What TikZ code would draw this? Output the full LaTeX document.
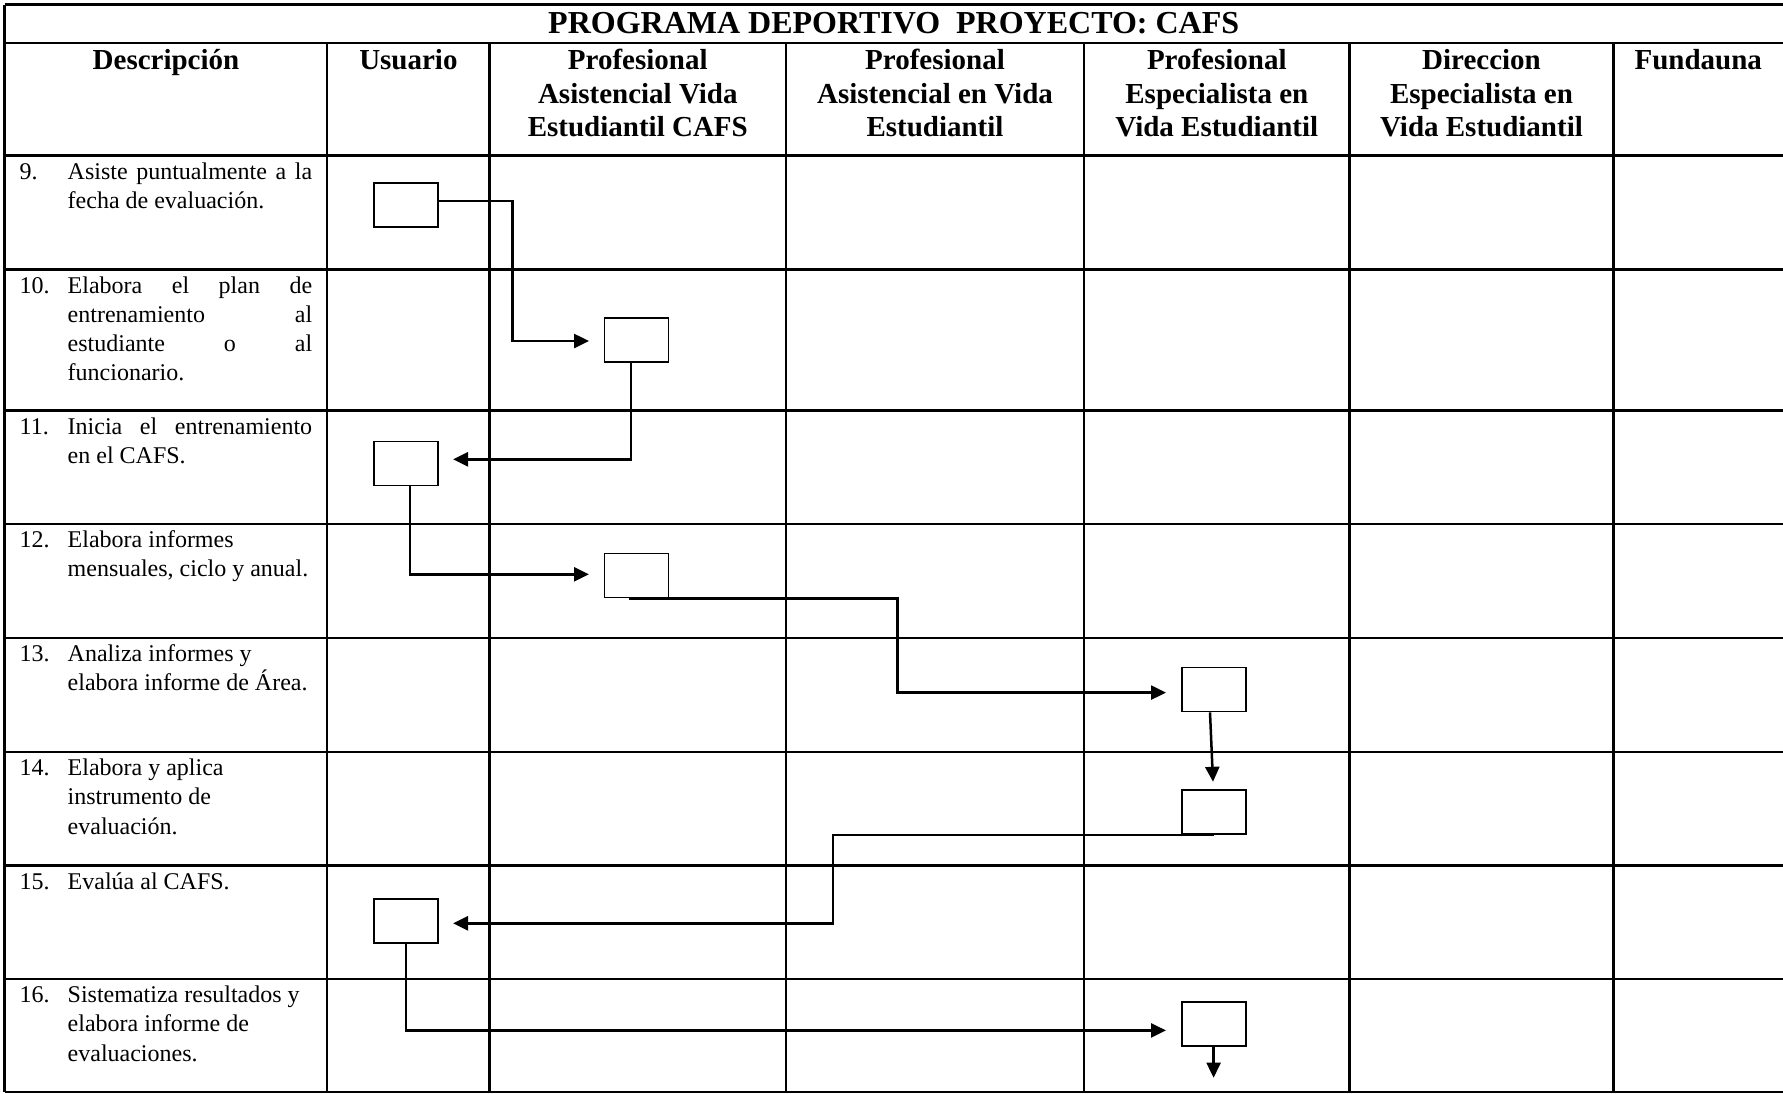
\documentclass[tikz,border=0pt]{standalone}
\usepackage{fontspec}
\setmainfont{Liberation Serif}
\usetikzlibrary{arrows.meta,calc}
\newcommand{\ttlfont}{\fontsize{32}{36}\selectfont\bfseries}
\newcommand{\hdfont}{\fontsize{29}{33.5}\selectfont\bfseries}
\newcommand{\bdfont}{\fontsize{24}{29.3}\selectfont}
\newcommand{\jline}[1]{\hbox to 244.5pt{#1}}
\begin{document}
\begin{tikzpicture}[x=1pt,y=-1pt,
  grid/.style={line width=2.1pt},
  box/.style={draw, line width=1.8pt, minimum width=64pt, minimum height=44pt, inner sep=0pt},
  conn/.style={line width=2.5pt, -{Triangle[length=15pt,width=14pt]}},
  hd/.style={font=\hdfont, anchor=base, inner sep=0pt},
  ttl/.style={font=\ttlfont, anchor=base, inner sep=0pt},
  num/.style={font=\bdfont, anchor=base west, inner sep=0pt},
  txt/.style={font=\bdfont, anchor=base west, inner sep=0pt}]
\useasboundingbox (0,0) rectangle (1783,1093);
\fill[white] (0,0) rectangle (1783,1093);
% table grid
\draw[grid] (4.5,4.5) -- (1783,4.5);
\foreach \yy in {43,155.5,269.5,410.5,524,638,752,865.5,979,1092}
  \draw[grid] (4.5,\yy) -- (1783,\yy);
\draw[grid] (4.5,4.5) -- (4.5,1092);
\foreach \xx in {327.3,489.5,786,1084,1349.5,1613.5}
  \draw[grid] (\xx,43) -- (\xx,1092);
% title
\node[ttl] (title) at (893.7,33) {PROGRAMA DEPORTIVO\ \ PROYECTO: CAFS};
% headers
\node[hd] (h1) at (166,69.5) {Descripción};
\node[hd] (h2) at (408.4,69.5) {Usuario};
\node[hd] (h3a) at (637.8,69.5) {Profesional};
\node[hd] (h3b) at (637.8,103) {Asistencial Vida};
\node[hd] (h3c) at (637.8,136.5) {Estudiantil CAFS};
\node[hd] (h4a) at (935,69.5) {Profesional};
\node[hd] (h4b) at (935,103) {Asistencial en Vida};
\node[hd] (h4c) at (935,136.5) {Estudiantil};
\node[hd] (h5a) at (1216.8,69.5) {Profesional};
\node[hd] (h5b) at (1216.8,103) {Especialista en};
\node[hd] (h5c) at (1216.8,136.5) {Vida Estudiantil};
\node[hd] (h6a) at (1481.5,69.5) {Direccion};
\node[hd] (h6b) at (1481.5,103) {Especialista en};
\node[hd] (h6c) at (1481.5,136.5) {Vida Estudiantil};
\node[hd] (h7) at (1698.3,69.5) {Fundauna};
% descriptions
\node[num] (n9) at (19.5,179) {9.};
\node[txt] (d9a) at (67.5,179) {\jline{Asiste\hfill puntualmente\hfill a\hfill la}};
\node[txt] (d9b) at (67.5,208.3) {fecha de evaluación.};
\node[num] (n10) at (19.5,293) {10.};
\node[txt] (d10a) at (67.5,293) {\jline{Elabora\hfill el\hfill plan\hfill de}};
\node[txt] (d10b) at (67.5,322.3) {\jline{entrenamiento\hfill al}};
\node[txt] (d10c) at (67.5,351.6) {\jline{estudiante\hfill o\hfill al}};
\node[txt] (d10d) at (67.5,380.9) {funcionario.};
\node[num] (n11) at (19.5,434) {11.};
\node[txt] (d11a) at (67.5,434) {\jline{Inicia\hfill el\hfill entrenamiento}};
\node[txt] (d11b) at (67.5,463.3) {en el CAFS.};
\node[num] (n12) at (19.5,547.5) {12.};
\node[txt] (d12a) at (67.5,547.5) {Elabora informes};
\node[txt] (d12b) at (67.5,576.8) {mensuales, ciclo y anual.};
\node[num] (n13) at (19.5,661.5) {13.};
\node[txt] (d13a) at (67.5,661.5) {Analiza informes y};
\node[txt] (d13b) at (67.5,690.8) {elabora informe de Área.};
\node[num] (n14) at (19.5,775.5) {14.};
\node[txt] (d14a) at (67.5,775.5) {Elabora y aplica};
\node[txt] (d14b) at (67.5,804.8) {instrumento de};
\node[txt] (d14c) at (67.5,834.1) {evaluación.};
\node[num] (n15) at (19.5,889) {15.};
\node[txt] (d15a) at (67.5,889) {Evalúa al CAFS.};
\node[num] (n16) at (19.5,1002.5) {16.};
\node[txt] (d16a) at (67.5,1002.5) {Sistematiza resultados y};
\node[txt] (d16b) at (67.5,1031.8) {elabora informe de};
\node[txt] (d16c) at (67.5,1061.1) {evaluaciones.};
% boxes
\node[box] (A) at (406,205) {};
\node[box] (B) at (636.5,340) {};
\node[box] (C) at (406,463.5) {};
\node[box] (D) at (636.5,575.5) {};
\node[box] (E) at (1213.6,689.5) {};
\node[box] (F) at (1213.6,812) {};
\node[box] (G) at (406,921) {};
\node[box] (H) at (1213.6,1024) {};
% connector points
\coordinate (j1) at (512.6,270);
\coordinate (tB) at (589,341);
\coordinate (tC) at (453,459.3);
\coordinate (tD) at (589,574.3);
\coordinate (j4) at (897.5,640);
\coordinate (tE) at (1166,692.6);
\coordinate (tF) at (1213,781.8);
\coordinate (j6) at (833.2,880);
\coordinate (tG) at (453,923.3);
\coordinate (tH) at (1166,1030.4);
\coordinate (tEnd) at (1213.6,1077.7);
% connectors
\draw[conn] ([yshift=4pt]A.east) -| (j1) |- (tB);
\draw[conn] ([xshift=-5.5pt]B.south) |- (tC);
\draw[conn] ([xshift=4pt]C.south) |- (tD);
\draw[conn] ([xshift=-8pt]D.south) -| (j4) |- (tE);
\draw[conn] ([xshift=-3.6pt]E.south) -- (tF);
\draw[conn] (F.south) -| (j6) |- (tG);
\draw[conn] (G.south) |- (tH);
\draw[conn] (H.south) -- (tEnd);
\end{tikzpicture}
\end{document}
